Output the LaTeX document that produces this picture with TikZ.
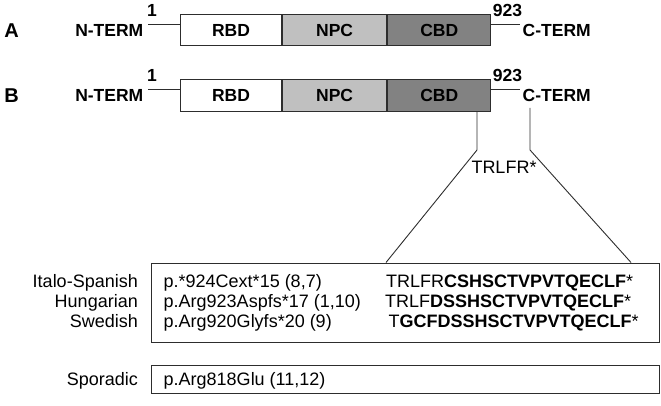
\documentclass[tikz,border=0pt]{standalone}
\usepackage{fontspec}
\setmainfont{Liberation Sans}
\usetikzlibrary{calc}

\definecolor{npcgray}{RGB}{192,192,192}
\definecolor{cbdgray}{RGB}{130,130,130}
\definecolor{edgegray}{RGB}{45,45,45}

\tikzset{
  txt/.style={inner sep=0pt, text height=12.9pt, text depth=0pt, font=\fontsize{18}{18}\selectfont},
  btxt/.style={txt, text height=12.5pt, font=\bfseries\fontsize{17.5}{18}\selectfont},
  rowlabel/.style={btxt, text height=14.3pt, font=\bfseries\fontsize{20}{20}\selectfont},
  dombox/.style={btxt, draw=edgegray, line width=1.1pt, minimum height=31.4pt, anchor=west},
  panel/.style={draw=edgegray, line width=1.2pt, anchor=north west, minimum width=508pt},
  link/.style={draw=edgegray, line width=0.9pt},
}

\begin{document}
\begin{tikzpicture}[x=1pt,y=-1pt]
\useasboundingbox (0,0) rectangle (661,406);

%%%%% protein rows A and B %%%%%
\foreach \row/\y in {A/30, B/95.5}{
  \node[rowlabel] (lbl\row) at (11.6,\y) {\row};
  \node[btxt, anchor=east] (nterm\row) at (143.5,\y) {N-TERM};
  \node[dombox, fill=white, minimum width=101pt] (rbd\row) at (180,\y) {RBD};
  \node[dombox, fill=npcgray, minimum width=104pt] (npc\row) at (rbd\row.east) {NPC};
  \node[dombox, fill=cbdgray, minimum width=103pt] (cbd\row) at (npc\row.east) {CBD};
  \node[btxt] (first\row) at (152,\y-20) {1};
  \node[btxt] (last\row) at (507.5,\y-20) {923};
  \node[btxt, anchor=west] (cterm\row) at (522.5,\y) {C-TERM};
  \coordinate (nend\row) at (148,\y-5.7);
  \coordinate (cend\row) at (519.5,\y-5.7);
  \draw[link] (nend\row) -- (nend\row -| rbd\row.west);
  \draw[link] (cbd\row.east |- cend\row) -- (cend\row);
}

%%%%% familial variants %%%%%
\node[panel, minimum height=79.2pt] (fam) at (150.7,262.5) {};

\node[txt, anchor=east] (italo) at (138,281.5) {Italo-Spanish};
\node[txt, anchor=east] (hung) at (138,301.2) {Hungarian};
\node[txt, anchor=east] (swed) at (138,321) {Swedish};

\node[txt, anchor=west] (italoHgvs) at (163.5,281.5) {p.*924Cext*15 (8,7)};
\node[txt, anchor=west] (hungHgvs) at (163.5,301.2) {p.Arg923Aspfs*17 (1,10)};
\node[txt, anchor=west] (swedHgvs) at (163.5,321) {p.Arg920Glyfs*20 (9)};

\node[txt, anchor=west] (italoSeq) at (386,281.5) {TRLFR\textbf{CSHSCTVPVTQECLF}*};
\node[txt, anchor=west] (hungSeq) at (385,301.2) {TRLF\textbf{DSSHSCTVPVTQECLF}*};
\node[txt, anchor=west] (swedSeq) at (388.5,321) {T\textbf{GCFDSSHSCTVPVTQECLF}*};

%%%%% sporadic %%%%%
\node[panel, minimum height=27.7pt] (spor) at (150.7,365) {};
\node[txt, anchor=east] (sporLbl) at (138,379) {Sporadic};
\node[txt, anchor=west] (sporHgvs) at (163.5,379) {p.Arg818Glu (11,12)};

%%%%% zoom on the C-terminus %%%%%
\node[txt] (wildSeq) at (504,167) {TRLFR*};
\coordinate (cutL) at (477,150);
\coordinate (cutR) at (530,150);
\coordinate (ctail) at (530,108);
\draw[link] (cbdB.south -| cutL) -- (cutL) -- ($(fam.north west)+(235.3,0)$);
\draw[link] (ctail) -- (cutR) -- ($(fam.north west)+(480.3,0)$);

\end{tikzpicture}
\end{document}
